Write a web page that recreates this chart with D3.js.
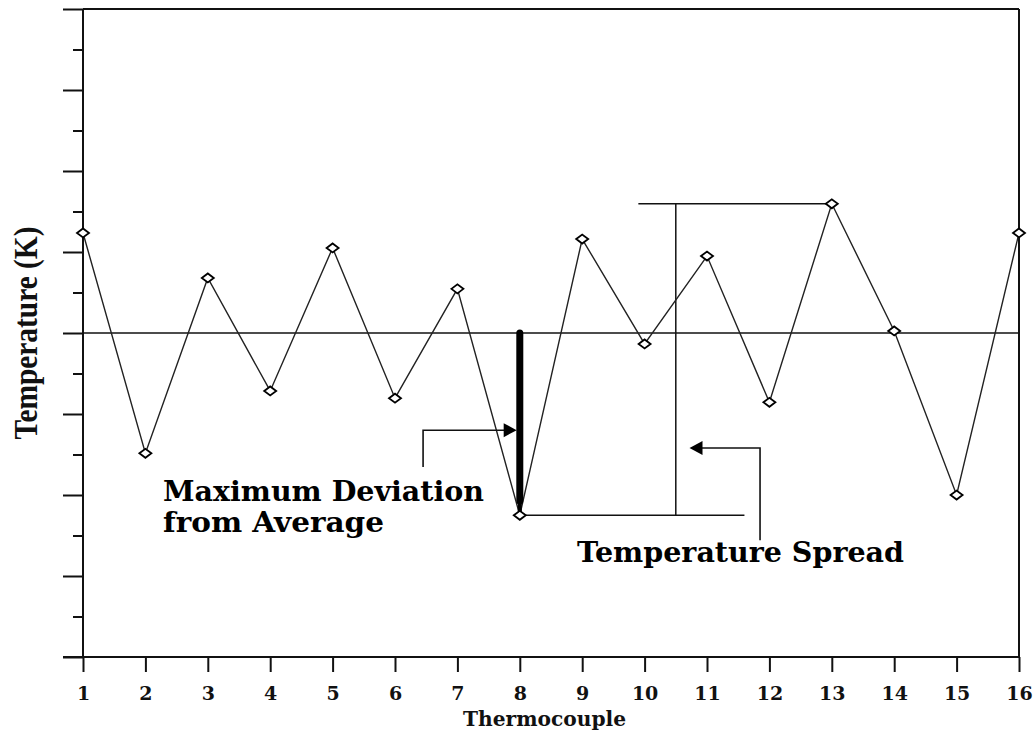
<!DOCTYPE html>
<html>
<head>
<meta charset="utf-8">
<script src="https://cdn.jsdelivr.net/npm/d3@7"></script>
<style>
  html, body { margin: 0; padding: 0; background: #fff; }
  svg { display: block; }
</style>
</head>
<body>
<svg id="chart" width="1033" height="731"></svg>
<script>
// Thermocouple readings, expressed as deviation units from the average line
const thermocouples = [1, 2, 3, 4, 5, 6, 7, 8, 9, 10, 11, 12, 13, 14, 15, 16];
const deviations = [2.47, -2.97, 1.36, -1.43, 2.10, -1.61, 1.09, -4.50, 2.32, -0.27, 1.90, -1.71, 3.19, 0.05, -4.00, 2.47];
const averageValue = 0;
const yTickValues = [-8, -7, -6, -5, -4, -3, -2, -1, 0, 1, 2, 3, 4, 5, 6, 7, 8];
const xTickLabels = ["1", "2", "3", "4", "5", "6", "7", "8", "9", "10", "11", "12", "13", "14", "15", "16"];

// Annotation anchors (data units)
const spreadX = 10.5, spreadTopStart = 9.9, spreadBottomEnd = 11.6;
const devArrow = { x0: 6.45, y0: -3.31, y1: -2.40, tip: 7.95 };
const spreadArrow = { x0: 11.85, y0: -5.12, y1: -2.84, tip: 10.72 };
const devBarEnd = -4.15;

const svg = d3.select("#chart");
const x = d3.scaleLinear().domain([1, 16]).range([83, 1019]);
const y = d3.scaleLinear().domain([-8, 8]).range([657, 9]);
const ink = "#111";

// Frame
const frame = svg.append("g").attr("stroke", ink).attr("stroke-width", 2).attr("fill", "none");
frame.append("line").attr("x1", x(1)).attr("x2", x(16)).attr("y1", y(8)).attr("y2", y(8));
frame.append("line").attr("x1", x(16)).attr("x2", x(16)).attr("y1", y(8)).attr("y2", y(-8));

// Y axis: long ticks on even steps, short ticks on odd steps
const yMajor = d3.axisLeft(y).tickValues(yTickValues.filter(v => v % 2 === 0)).tickSize(20).tickFormat("");
const yMinor = d3.axisLeft(y).tickValues(yTickValues.filter(v => v % 2 !== 0)).tickSize(10).tickFormat("");
[yMajor, yMinor].forEach(ax => {
  const g = svg.append("g").attr("transform", `translate(${x(1)},0)`).call(ax);
  g.select(".domain").remove();
  g.selectAll(".tick line").attr("stroke", ink).attr("stroke-width", 2);
});
svg.append("line").attr("x1", x(1)).attr("x2", x(1)).attr("y1", y(8)).attr("y2", y(-8))
  .attr("stroke", ink).attr("stroke-width", 2);

// X axis
const xAxis = d3.axisBottom(x).tickValues(thermocouples).tickSize(15).tickPadding(15)
  .tickFormat((d, i) => xTickLabels[i]);
const gx = svg.append("g").attr("transform", `translate(0,${y(-8)})`).call(xAxis);
gx.select(".domain").remove();
gx.selectAll(".tick line").attr("stroke", ink).attr("stroke-width", 2);
gx.selectAll(".tick text").attr("fill", ink)
  .style("font-family", "'DejaVu Serif'").style("font-weight", "bold").style("font-size", "19px");
svg.append("line").attr("x1", x(1) - 20).attr("x2", x(16)).attr("y1", y(-8)).attr("y2", y(-8))
  .attr("stroke", ink).attr("stroke-width", 2);

// Average line
svg.append("line").attr("x1", x(1)).attr("x2", x(16)).attr("y1", y(averageValue)).attr("y2", y(averageValue))
  .attr("stroke", ink).attr("stroke-width", 1.3);

// Axis titles
svg.append("text").attr("transform", `translate(37,${y(0)}) rotate(-90)`)
  .attr("text-anchor", "middle").attr("fill", ink)
  .attr("textLength", 213).attr("lengthAdjust", "spacingAndGlyphs")
  .style("font-family", "'Liberation Serif'").style("font-weight", "bold").style("font-size", "34px")
  .text("Temperature (K)");
svg.append("text").attr("x", 463).attr("y", 726).attr("fill", ink)
  .attr("textLength", 163).attr("lengthAdjust", "spacingAndGlyphs")
  .style("font-family", "'DejaVu Serif'").style("font-weight", "bold").style("font-size", "20px")
  .text("Thermocouple");

// Temperature spread bracket
const spread = svg.append("g").attr("stroke", ink).attr("stroke-width", 1.5);
spread.append("line").attr("x1", x(spreadTopStart)).attr("x2", x(13)).attr("y1", y(deviations[12])).attr("y2", y(deviations[12]));
spread.append("line").attr("x1", x(8)).attr("x2", x(spreadBottomEnd)).attr("y1", y(deviations[7])).attr("y2", y(deviations[7]));
spread.append("line").attr("x1", x(spreadX)).attr("x2", x(spreadX)).attr("y1", y(deviations[12])).attr("y2", y(deviations[7]));

// Data line
const line = d3.line().x((d, i) => x(thermocouples[i])).y(d => y(d));
svg.append("path").datum(deviations).attr("d", line)
  .attr("fill", "none").attr("stroke", "#222").attr("stroke-width", 1.4);

// Maximum deviation bar
svg.append("line").attr("x1", x(8)).attr("x2", x(8)).attr("y1", y(averageValue)).attr("y2", y(devBarEnd))
  .attr("stroke", "#000").attr("stroke-width", 7).attr("stroke-linecap", "round");
svg.append("line").attr("x1", x(8)).attr("x2", x(8)).attr("y1", y(devBarEnd)).attr("y2", y(deviations[7]))
  .attr("stroke", "#000").attr("stroke-width", 4);

// Markers
svg.append("g").selectAll("path").data(deviations).join("path")
  .attr("transform", (d, i) => `translate(${x(thermocouples[i])},${y(d)})`)
  .attr("d", "M-6,0 L0,-4.5 L6,0 L0,4.5 Z")
  .attr("fill", "#fff").attr("stroke", "#000").attr("stroke-width", 1.8);

// Callout arrows
function arrow(a, dir) {
  const g = svg.append("g");
  g.append("polyline")
    .attr("points", [[x(a.x0), y(a.y0)], [x(a.x0), y(a.y1)], [x(a.tip) - dir * 10, y(a.y1)]].map(p => p.join(",")).join(" "))
    .attr("fill", "none").attr("stroke", ink).attr("stroke-width", 1.6);
  const tx = x(a.tip), ty = y(a.y1);
  g.append("path")
    .attr("d", `M${tx},${ty} L${tx - dir * 13},${ty - 7} L${tx - dir * 13},${ty + 7} Z`)
    .attr("fill", "#000");
}
arrow(devArrow, 1);
arrow(spreadArrow, -1);

// Annotation labels
const labelStyle = sel => sel.attr("fill", "#000").attr("lengthAdjust", "spacingAndGlyphs")
  .style("font-family", "'DejaVu Serif'").style("font-weight", "bold").style("font-size", "27px");
svg.append("text").attr("x", 163).attr("y", 501).attr("textLength", 321).call(labelStyle).text("Maximum Deviation");
svg.append("text").attr("x", 163).attr("y", 532).attr("textLength", 221).call(labelStyle).text("from Average");
svg.append("text").attr("x", 577).attr("y", 562).attr("textLength", 327).call(labelStyle).text("Temperature Spread");
</script>
</body>
</html>
